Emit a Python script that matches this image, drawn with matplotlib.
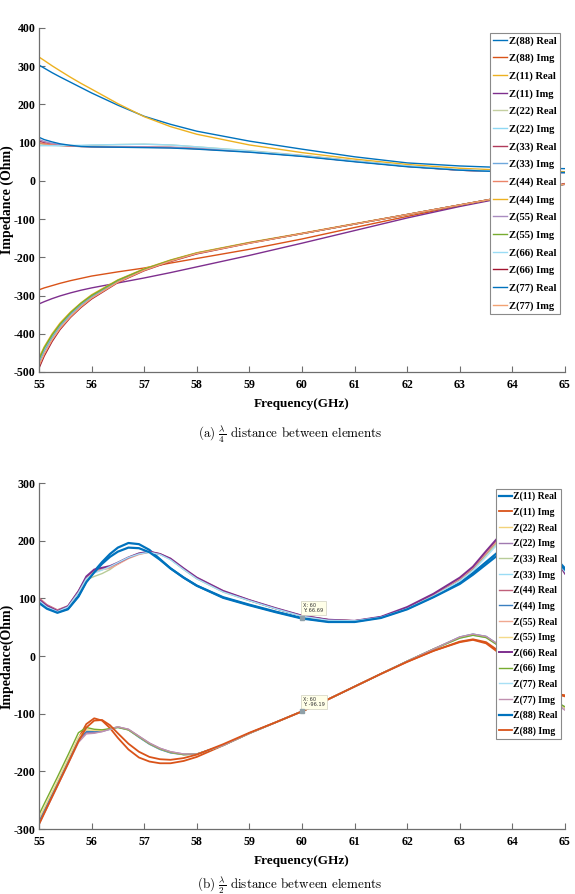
import matplotlib
matplotlib.use("Agg")
import matplotlib.pyplot as plt

# ---- (a) lambda/4 spacing ----
freq_a = [55, 55.1, 55.25, 55.4, 55.6, 55.8, 56, 56.5, 57, 57.5, 58, 59, 60, 61, 62, 63, 64, 65]

z88_re_a = [303, 295, 283, 272, 258, 244, 230, 198, 169, 148, 130, 104, 83, 63, 47, 39, 34, 32]
z88_im_a = [-285, -280, -274, -268, -261, -255, -249, -238, -228, -215, -203, -179, -152, -122, -93, -65, -38, -8]
z11_re_a = [324, 315, 301, 288, 271, 255, 240, 202, 168, 142, 122, 94, 74, 57, 43, 33, 27, 24]
z11_im_a = [-322, -316, -308, -301, -293, -286, -280, -267, -254, -240, -225, -195, -163, -130, -97, -67, -40, -9]
z22_re_a = [97, 95, 93, 92, 92, 92, 93, 95, 96, 94, 89, 79, 67, 53, 39, 29, 24, 21]
z22_im_a = [-470, -440, -405, -377, -347, -322, -301, -261, -231, -208, -189, -162, -138, -113, -88, -63, -38, -8]
z33_re_a = [104, 100, 96, 93, 91, 90, 89, 88, 88, 87, 84, 76, 65, 51, 38, 28, 23, 21]
z33_im_a = [-476, -446, -410, -381, -350, -325, -304, -263, -232, -209, -190, -162, -138, -113, -88, -63, -38, -8]
z44_re_a = [100, 97, 95, 93, 91, 90, 90, 89, 89, 88, 85, 77, 66, 52, 38, 28, 23, 21]
z44_im_a = [-463, -434, -400, -372, -343, -319, -298, -259, -230, -207, -188, -161, -137, -112, -88, -63, -38, -8]
z55_re_a = [108, 103, 98, 95, 92, 91, 90, 89, 89, 88, 85, 76, 65, 51, 38, 28, 23, 20]
z55_im_a = [-467, -437, -403, -375, -345, -320, -300, -260, -231, -208, -189, -162, -138, -113, -88, -63, -38, -8]
z66_re_a = [92, 92, 92, 92, 93, 93, 94, 95, 96, 94, 89, 78, 66, 52, 39, 29, 24, 21]
z66_im_a = [-490, -458, -420, -389, -357, -331, -309, -266, -235, -211, -191, -163, -138, -113, -88, -63, -38, -7]
z77_re_a = [114, 108, 102, 97, 93, 90, 89, 88, 87, 86, 83, 75, 64, 50, 37, 28, 23, 22]
z77_im_a = [-484, -453, -416, -386, -355, -329, -307, -265, -234, -210, -190, -163, -138, -113, -88, -63, -38, -8]

labels_a = ["Z(88) Real", "Z(88) Img", "Z(11) Real", "Z(11) Img", "Z(22) Real", "Z(22) Img",
            "Z(33) Real", "Z(33) Img", "Z(44) Real", "Z(44) Img", "Z(55) Real", "Z(55) Img",
            "Z(66) Real", "Z(66) Img", "Z(77) Real", "Z(77) Img"]
series_a = [z88_re_a, z88_im_a, z11_re_a, z11_im_a, z22_re_a, z22_im_a, z33_re_a, z33_im_a,
            z44_re_a, z44_im_a, z55_re_a, z55_im_a, z66_re_a, z66_im_a, z77_re_a, z77_im_a]
colors_a = ["#0072BD", "#D95319", "#EDB120", "#7E2F8E", "#C4CFA0", "#8ED8F4", "#B03A5B", "#6FA8DC",
            "#EB8468", "#EDB120", "#A98CC0", "#77AC30", "#9ADCF5", "#A2142F", "#0072BD", "#F2A272"]

# ---- (b) lambda/2 spacing ----
freq_b = [55, 55.15, 55.35, 55.55, 55.75, 55.9, 56.05, 56.2, 56.35, 56.5, 56.7, 56.9, 57.1, 57.3, 57.5,
          57.75, 58, 58.5, 59, 59.5, 60, 60.5, 61, 61.5, 62, 62.5, 63, 63.25, 63.5, 63.75, 64, 64.25,
          64.5, 64.75, 65]

z11_re_b = [95, 84, 76, 82, 104, 130, 147, 163, 177, 188, 196, 194, 184, 168, 152, 136, 122, 102, 89, 77,
            66, 60, 60, 67, 82, 103, 127, 144, 163, 182, 197, 203, 196, 177, 152]
z11_im_b = [-288, -260, -222, -183, -143, -118, -108, -112, -125, -142, -162, -176, -183, -186, -186, -182,
            -175, -155, -134, -115, -96, -75, -53, -31, -10, 9, 24, 28, 22, 5, -18, -40, -56, -65, -68]
z22_re_b = [99, 87, 78, 85, 110, 133, 145, 150, 155, 162, 171, 178, 181, 177, 168, 151, 135, 112, 96, 82,
            70, 63, 61, 67, 83, 106, 133, 152, 177, 203, 222, 228, 211, 178, 143]
z22_im_b = [-290, -262, -224, -186, -147, -133, -133, -131, -127, -123, -127, -139, -151, -160, -166, -170,
            -170, -155, -134, -115, -96, -75, -53, -31, -9, 12, 32, 37, 33, 18, -5, -30, -55, -76, -91]
z33_re_b = [97, 86, 78, 86, 111, 132, 138, 143, 150, 160, 170, 177, 180, 177, 168, 150, 134, 111, 96, 82,
            69, 62, 61, 67, 83, 106, 132, 150, 175, 200, 220, 226, 210, 178, 146]
z33_im_b = [-284, -256, -219, -181, -142, -129, -130, -130, -127, -124, -128, -140, -152, -161, -167, -171,
            -170, -155, -134, -115, -96, -75, -53, -31, -9, 12, 31, 36, 32, 17, -6, -31, -56, -76, -90]
z44_re_b = [101, 89, 80, 87, 113, 136, 146, 150, 154, 161, 170, 177, 181, 177, 168, 151, 135, 112, 97, 82,
            70, 63, 61, 67, 83, 106, 133, 152, 178, 205, 224, 229, 212, 180, 145]
z44_im_b = [-286, -258, -220, -182, -144, -131, -131, -130, -126, -123, -128, -141, -153, -162, -168, -171,
            -170, -155, -134, -115, -96, -75, -53, -31, -9, 12, 33, 38, 34, 19, -4, -29, -54, -74, -89]
z55_re_b = [100, 88, 79, 86, 112, 136, 147, 150, 152, 159, 169, 176, 180, 177, 169, 152, 136, 113, 97, 83,
            70, 63, 61, 67, 84, 107, 134, 153, 179, 206, 226, 231, 214, 181, 145]
z55_im_b = [-282, -254, -217, -179, -141, -128, -129, -129, -126, -123, -128, -140, -152, -161, -167, -171,
            -170, -155, -134, -115, -96, -75, -53, -31, -9, 12, 32, 37, 33, 18, -5, -30, -55, -75, -90]
z66_re_b = [98, 87, 78, 86, 112, 138, 150, 153, 156, 162, 171, 178, 181, 177, 169, 152, 136, 113, 97, 83,
            70, 63, 61, 68, 85, 108, 136, 155, 182, 208, 228, 232, 214, 180, 143]
z66_im_b = [-275, -247, -210, -172, -133, -124, -127, -128, -126, -124, -128, -140, -152, -161, -167, -171,
            -170, -155, -134, -115, -96, -75, -53, -31, -9, 12, 31, 36, 32, 17, -6, -31, -56, -76, -88]
z77_re_b = [96, 85, 77, 85, 110, 134, 144, 149, 155, 162, 171, 177, 180, 176, 167, 150, 134, 111, 96, 82,
            69, 62, 61, 67, 82, 104, 130, 148, 172, 197, 216, 222, 207, 176, 146]
z77_im_b = [-292, -264, -226, -188, -150, -135, -134, -131, -127, -123, -127, -139, -151, -160, -166, -170,
            -170, -155, -134, -115, -96, -75, -53, -31, -9, 12, 33, 38, 34, 19, -4, -29, -55, -78, -94]
z88_re_b = [92, 82, 75, 81, 103, 128, 145, 160, 172, 181, 188, 187, 180, 167, 152, 136, 122, 101, 88, 76,
            65, 59, 59, 66, 81, 102, 125, 141, 159, 177, 191, 197, 190, 172, 150]
z88_im_b = [-292, -263, -225, -187, -148, -124, -112, -111, -120, -134, -152, -166, -175, -179, -180, -177,
            -171, -153, -133, -115, -96, -75, -53, -31, -10, 9, 25, 29, 24, 8, -14, -36, -54, -64, -70]

labels_b = ["Z(11) Real", "Z(11) Img", "Z(22) Real", "Z(22) Img", "Z(33) Real", "Z(33) Img",
            "Z(44) Real", "Z(44) Img", "Z(55) Real", "Z(55) Img", "Z(66) Real", "Z(66) Img",
            "Z(77) Real", "Z(77) Img", "Z(88) Real", "Z(88) Img"]
series_b = [z11_re_b, z11_im_b, z22_re_b, z22_im_b, z33_re_b, z33_im_b, z44_re_b, z44_im_b,
            z55_re_b, z55_im_b, z66_re_b, z66_im_b, z77_re_b, z77_im_b, z88_re_b, z88_im_b]
colors_b = ["#0072BD", "#D95319", "#F2D27A", "#A07AB0", "#B8CC98", "#9ADCF5", "#C0607A", "#3A7FC0",
            "#F0A890", "#F4DA8A", "#7E2F8E", "#77AC30", "#A8E0F5", "#C090B0", "#0072BD", "#D95319"]
widths_b = [1.6, 1.3, 1, 1, 1, 1, 1, 1, 1, 1, 1.4, 1, 1, 1, 1.6, 1.3]

tip_x = 60
tip_re = 66.69
tip_im = -96.19

serif = "Liberation Serif"
plt.rcParams["mathtext.fontset"] = "cm"
axis_grey = "#6e6e6e"


def style_axes(ax, ylim, yticks, ylabel):
    ax.set_xlim(55, 65)
    ax.set_ylim(*ylim)
    xt = list(range(55, 66))
    ax.set_xticks(xt, labels=[str(t) for t in xt])
    ax.set_yticks(list(yticks), labels=[str(t) for t in yticks])
    ax.spines["top"].set_visible(False)
    ax.spines["right"].set_visible(False)
    for s in ("left", "bottom"):
        ax.spines[s].set_color(axis_grey)
        ax.spines[s].set_linewidth(0.9)
    ax.tick_params(direction="in", length=4, width=0.8, color=axis_grey)
    ax.tick_params(axis="x", pad=5)
    ax.tick_params(axis="y", pad=2.5)
    for lab in ax.get_xticklabels() + ax.get_yticklabels():
        lab.set_fontfamily(serif)
        lab.set_fontweight("bold")
        lab.set_fontsize(8.6)
    ax.set_xlabel("Frequency(GHz)", family=serif, weight="bold", fontsize=9.5, labelpad=5)
    ax.set_ylabel(ylabel, family=serif, weight="bold", fontsize=10)
    ax.yaxis.set_label_coords(-0.048, 0.5)


fig = plt.figure(figsize=(5.75, 8.94), dpi=100)

ax1 = fig.add_axes([0.0678, 0.5839, 0.9148, 0.3848])
for y, c, lab in zip(series_a, colors_a, labels_a):
    ax1.plot(freq_a, y, color=c, lw=1.0, label=lab)
style_axes(ax1, (-500, 400), range(-500, 401, 100), "Impedance (Ohm)")
leg1 = ax1.legend(loc="upper right", bbox_to_anchor=(0.9905, 0.986), borderaxespad=0,
                  prop={"family": serif, "weight": "bold", "size": 7.6}, handlelength=1.3,
                  handletextpad=0.2, borderpad=0.3, labelspacing=0.76, fancybox=False,
                  framealpha=1, edgecolor="#8a8a8a")
leg1.get_frame().set_linewidth(0.8)

ax2 = fig.add_axes([0.0678, 0.0727, 0.9148, 0.387])
for y, c, lab, w in zip(series_b, colors_b, labels_b, widths_b):
    ax2.plot(freq_b, y, color=c, lw=w, label=lab)
style_axes(ax2, (-300, 300), range(-300, 301, 100), "Impedance(Ohm)")
leg2 = ax2.legend(loc="upper right", bbox_to_anchor=(0.992, 0.983), borderaxespad=0,
                  prop={"family": serif, "weight": "bold", "size": 7.0}, handlelength=1.3,
                  handletextpad=0.2, borderpad=0.3, labelspacing=0.62, fancybox=False,
                  framealpha=1, edgecolor="#8a8a8a")
leg2.get_frame().set_linewidth(0.8)

# data tips
for yv in (tip_re, tip_im):
    ax2.plot([tip_x], [yv], marker="s", ms=2.2, color="#8fa0a8", zorder=5)
    ax2.annotate("X: %g\nY: %.2f" % (tip_x, yv), xy=(tip_x, yv), xytext=(1, 3),
                 textcoords="offset points", fontsize=3.6, family="DejaVu Sans",
                 color="#333333", va="bottom", ha="left",
                 bbox=dict(boxstyle="square,pad=0.4", fc="#ffffe8", ec="#d0d0c0", lw=0.5))

fig.text(0.504, 0.5145, r"(a) $\frac{\lambda}{4}$ distance between elements", family="cmr10",
         fontsize=9.4, ha="center", va="center")
fig.text(0.504, 0.010, r"(b) $\frac{\lambda}{2}$ distance between elements", family="cmr10",
         fontsize=9.4, ha="center", va="center")

fig.savefig("out.png", dpi=100)
